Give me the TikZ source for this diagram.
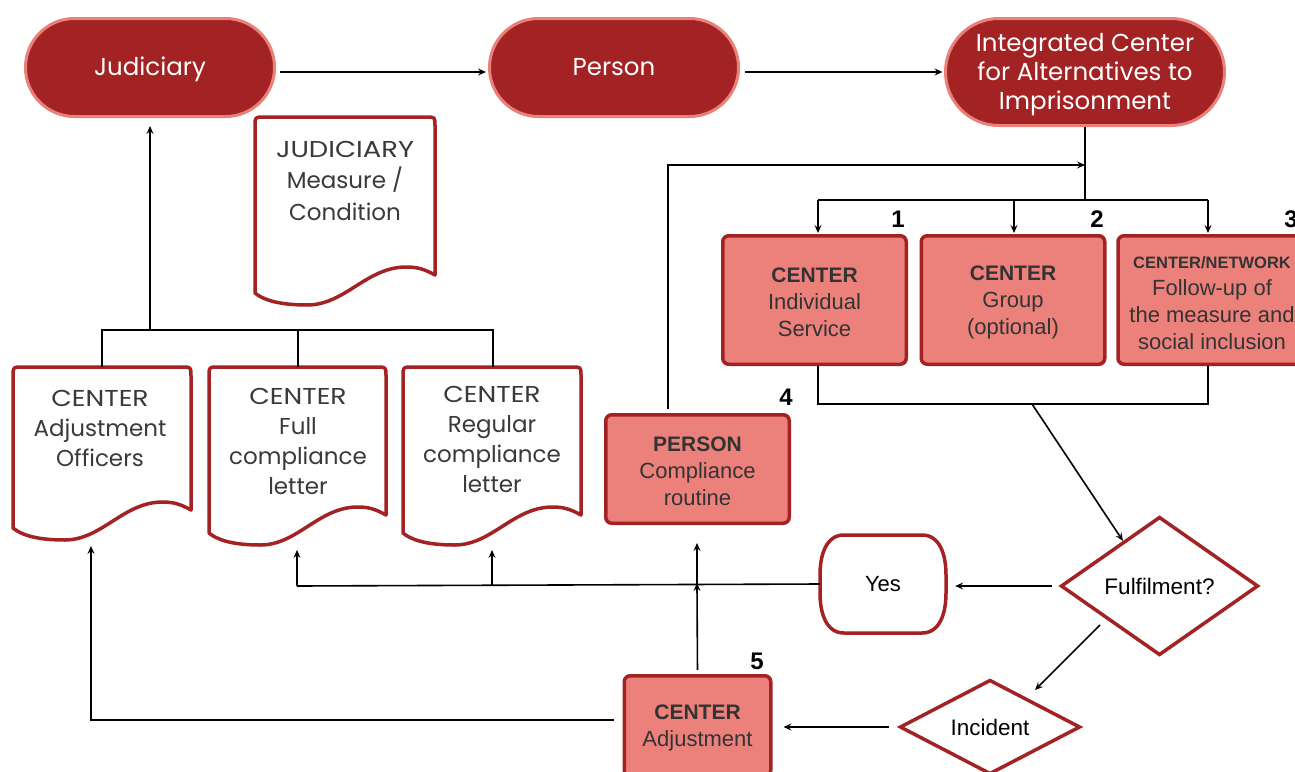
\documentclass[tikz,border=0pt]{standalone}
\usepackage{fontspec}
\usepackage{graphicx}
\setmainfont{Liberation Sans}
\newfontfamily\mont{Poppins}
\usetikzlibrary{shapes.geometric,arrows.meta,calc}
\definecolor{dred}{HTML}{A32224}
\definecolor{lred}{HTML}{EC817C}
\definecolor{tbord}{HTML}{EB7F7A}
\definecolor{txt}{HTML}{333333}
\definecolor{dtxt}{HTML}{3A3A3A}
\newcommand\wcap[1]{\scalebox{1.16}[1]{#1}}
\newcommand\btitle[1]{{\fontsize{21}{27}\selectfont\textbf{#1}}}
\tikzset{
  term/.style={draw=tbord, line width=3pt, fill=dred, inner sep=0pt},
  termt/.style={text=white, align=center, inner sep=0pt, font=\mont\fontsize{24.5}{29}\selectfont},
  cbox/.style={draw=dred, line width=3.5pt, fill=lred, rounded corners=6pt, inner sep=0pt},
  btxt/.style={text=txt, align=center, inner sep=0pt, font=\fontsize{22}{27}\selectfont},
  doct/.style={text=dtxt, align=center, inner sep=0pt, font=\mont\fontsize{23}{30}\selectfont},
  docb/.style={draw=dred, line width=3.5pt, fill=white, line join=round},
  dia/.style={diamond, draw=dred, line width=3.5pt, fill=white, shape aspect=1.42, inner sep=0pt,
    font=\fontsize{22.5}{26}\selectfont},
  ln/.style={line width=1.6pt},
  arr/.style={line width=1.6pt, -{Stealth[length=8pt,width=7pt,inset=3pt]}},
  num/.style={font=\bfseries\fontsize{24}{24}\selectfont, inner sep=0pt},
}
\newcommand\docshp[4]{%
\draw[docb] (#1,{#4-12}) -- (#1,{#2+9}) .. controls (#1,#2) .. ({#1+9},#2) -- ({#3-9},#2)
 .. controls (#3,#2) .. (#3,{#2+9}) -- (#3,{#4-30})
 .. controls ({#3-0.06*(#3-#1)},{#4-36}) and ({#1+0.9*(#3-#1)},{#4-38}) .. ({#1+0.84*(#3-#1)},{#4-38})
 .. controls ({#1+0.62*(#3-#1)},{#4-38}) and ({#1+0.5*(#3-#1)},#4) .. ({#1+0.29*(#3-#1)},#4)
 .. controls ({#1+0.12*(#3-#1)},#4) and ({#1+0.04*(#3-#1)},{#4-6}) .. (#1,{#4-12}) -- cycle;}
\begin{document}
\begin{tikzpicture}[x=1pt,y=-1pt]
\useasboundingbox (0,0) rectangle (1295,771);
\clip (0,0) rectangle (1295,771);
\fill[white] (0,0) rectangle (1295,771);

% terminators
\node[term, minimum width=249, minimum height=98, rounded corners=48.9pt] (jud) at (150,67.5) {};
\node[termt] (judt) at ([yshift=-1.5pt]jud.center) {Judiciary};
\node[term, minimum width=249, minimum height=98, rounded corners=48.9pt] (per) at (614,67.5) {};
\node[termt] (pert) at ([yshift=0pt]per.center) {Person};
\node[term, minimum width=279, minimum height=107, rounded corners=53.4pt] (int) at (1085,72) {};
\node[termt] (intt) at ([yshift=-3pt]int.center) {Integrated Center\\for Alternatives to\\Imprisonment};

% documents
\docshp{255}{117}{435}{305}
\node[doct, font=\mont\fontsize{23}{31.5}\selectfont] (jdoc) at (345,180.5) {\scalebox{1.19}[1]{JUDICIARY}\\Measure /\\Condition};
\docshp{13}{367}{191}{540}
\node[doct] (doc1) at (100,428.5) {\wcap{CENTER}\\Adjustment\\Officers};
\docshp{209}{367}{386}{545}
\node[doct] (doc2) at (298,441.5) {\wcap{CENTER}\\Full\\compliance\\letter};
\docshp{403}{367}{581}{545}
\node[doct] (doc3) at (492,439.5) {\wcap{CENTER}\\Regular\\compliance\\letter};

% boxes
\node[cbox, minimum width=183.5, minimum height=128.5] (b1) at (814.5,300) {};
\node[btxt] (b1t) at ([yshift=-2pt]b1.center) {\btitle{CENTER}\\Individual\\Service};
\node[cbox, minimum width=183.5, minimum height=128.5] (b2) at (1013,300) {};
\node[btxt] (b2t) at ([yshift=-2pt]b2.center) {\btitle{CENTER}\\Group\\(optional)};
\node[cbox, minimum width=188, minimum height=128.5] (b3) at (1212,300) {};
\node[btxt] (b3t) at ([yshift=-3pt]b3.center) {{\fontsize{16.5}{20}\selectfont\textbf{CENTER/NETWORK}}\\Follow-up of\\the measure and\\social inclusion};
\node[cbox, minimum width=183.5, minimum height=108.5] (pbox) at (697.5,469) {};
\node[btxt] (pboxt) at ([yshift=-2pt]pbox.center) {\btitle{PERSON}\\Compliance\\routine};
\node[cbox, minimum width=146.5, minimum height=100.5] (adj) at (697.5,726) {};
\node[btxt] (adjt) at ([yshift=-2pt]adj.center) {\btitle{CENTER}\\Adjustment};

% numbers
\node[num] (n1) at (898,219) {1};
\node[num] (n2) at (1097,219) {2};
\node[num] (n3) at (1291,219) {3};
\node[num] (n4) at (786,397) {4};
\node[num] (n5) at (757,661) {5};

% decisions
\node[dia, minimum width=197.5, minimum height=138.5] (ful) at (1159.5,586) {Fulfilment?};
\node[dia, minimum width=180.5, minimum height=94.5] (inc) at (990,727) {Incident};

% yes terminal
\draw[docb] (844,535) -- (922,535) .. controls (940,535) and (946,555) .. (946,575) -- (946,593)
  .. controls (946,613) and (940,633) .. (922,633) -- (844,633) .. controls (826,633) and (820,613) .. (820,593)
  -- (820,575) .. controls (820,555) and (826,535) .. (844,535) -- cycle;
\node[inner sep=0pt, minimum width=126, minimum height=98, font=\fontsize{22}{26}\selectfont] (yes) at (883,584) {Yes};

% coordinates
\coordinate (pe) at (745,72);
\coordinate (je) at (280,72);
\coordinate (split) at (1085,200);
\coordinate (s1) at (818,200);
\coordinate (s2) at (1014,200);
\coordinate (s3) at (1208,200);
\coordinate (pk) at (668,165);
\coordinate (jL) at (818,404);
\coordinate (jR) at (1208,404);
\coordinate (jD) at (1032,404);
\coordinate (fi1) at (1100,625);
\coordinate (fi2) at (1035,690);
\coordinate (a1) at (91,720);
\coordinate (d1b) at (91,546);
\coordinate (y2) at (297,586);
\coordinate (y3) at (492,586);
\coordinate (y4) at (697,586);
\coordinate (d2b) at (297,550);
\coordinate (d3b) at (492,550);
\coordinate (pb) at (697,543);
\coordinate (h1) at (102,330);
\coordinate (h2) at (298,330);
\coordinate (h3) at (493,330);
\coordinate (ht) at (150,330);
\coordinate (d1t) at (102,367);
\coordinate (d2t) at (298,367);
\coordinate (d3t) at (493,367);

% connectors
\draw[arr, shorten >=2pt] (je) -- (je -| per.west);
\draw[arr, shorten >=1.5pt] (pe) -- (pe -| int.west);
\draw[ln] (int.south) -- (split);
\draw[ln] (s1) -- (s3);
\draw[arr, shorten >=1pt] (s1) -- (s1 |- b1.north);
\draw[arr, shorten >=1pt] (s2) -- (s2 |- b2.north);
\draw[arr, shorten >=1pt] (s3) -- (s3 |- b3.north);
\draw[arr, shorten <=4pt] (pbox.north -| pk) -- (pk) -- (pk -| split);
\draw[ln] (b1.south -| jL) -- (jL) -- (jR) -- (b3.south -| jR);
\draw[arr] (jD) -- (ful.129);
\draw[arr, shorten <=7pt, shorten >=9pt] (ful.west) -- (ful.west -| yes.east);
\draw[arr] (fi1) -- (fi2);
\draw[arr, shorten <=9pt, shorten >=11pt] (inc.west) -- (inc.west -| adj.east);
\draw[arr, shorten <=9pt] (adj.west |- a1) -- (a1) -- (d1b);
\draw[arr, shorten <=4pt, shorten >=-3pt] (adj.north) -- (y4);
\draw[ln] (yes.west) -- (y2);
\draw[arr] (y2) -- (d2b);
\draw[arr] (y3) -- (d3b);
\draw[arr] (y4) -- (pb);
\draw[ln] (d1t) -- (h1) -- (h3) -- (d3t);
\draw[ln] (d2t) -- (h2);
\draw[arr, shorten >=8pt] (ht) -- (jud.south);
\end{tikzpicture}
\end{document}
